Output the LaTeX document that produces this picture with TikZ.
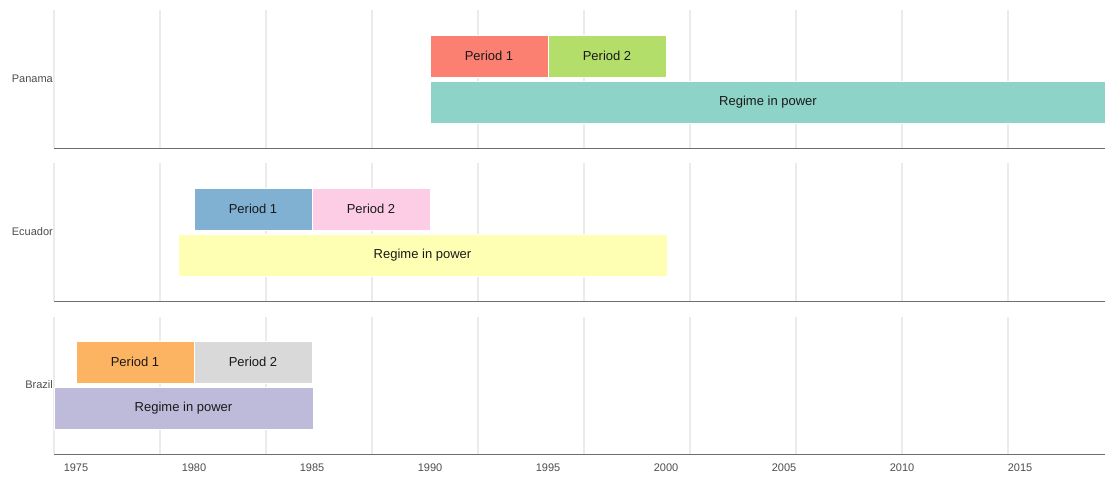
\documentclass[tikz,border=0pt]{standalone}
\usepackage{fontspec}
\setmainfont{Liberation Sans}
\definecolor{gridc}{HTML}{EBEBEB}
\definecolor{axisc}{HTML}{6E6E6E}
\definecolor{labc}{HTML}{4D4D4D}
\definecolor{cA}{HTML}{FB8072}
\definecolor{cB}{HTML}{B3DE69}
\definecolor{cC}{HTML}{8DD3C7}
\definecolor{cD}{HTML}{80B1D3}
\definecolor{cE}{HTML}{FCCDE5}
\definecolor{cF}{HTML}{FFFFB3}
\definecolor{cG}{HTML}{FDB462}
\definecolor{cH}{HTML}{D9D9D9}
\definecolor{cI}{HTML}{BEBADA}
\tikzset{
  bar/.style={draw=white, line width=0.6pt, inner sep=0pt, minimum height=42pt, text=black!90, font=\fontsize{13}{15}\selectfont},
  grid/.style={draw=gridc, line width=1.6pt},
  axisl/.style={draw=axisc, line width=1pt},
  lab/.style={text=labc, font=\fontsize{11}{13}\selectfont, inner sep=0pt}
}
\begin{document}
\begin{tikzpicture}[x=1pt,y=-1pt]
\useasboundingbox (0,0) rectangle (1105,477);
% grid lines
\foreach \t/\b in {10/148,163/301,317/454}{
  \foreach \x in {54,160,266,372,478,584,690,796,902,1008}{
    \draw[grid] (\x,\t) -- (\x,\b);
  }
}
% Panama
\node[bar, fill=cA, minimum width=118pt] (pa1) at (489,56) {Period 1};
\node[bar, fill=cB, minimum width=118pt] (pa2) at (607,56) {Period 2};
\node[bar, fill=cC, minimum width=676pt] (par) at (768,102) {Regime in power};
% Ecuador
\node[bar, fill=cD, minimum width=118pt] (ec1) at (253,209) {Period 1};
\node[bar, fill=cE, minimum width=118pt] (ec2) at (371,209) {Period 2};
\node[bar, fill=cF, minimum width=489pt] (ecr) at (422.5,255) {Regime in power};
% Brazil
\node[bar, fill=cG, minimum width=118pt] (br1) at (135,362) {Period 1};
\node[bar, fill=cH, minimum width=118pt] (br2) at (253,362) {Period 2};
\node[bar, fill=cI, minimum width=259pt] (brr) at (183.5,408) {Regime in power};
% axis lines
\coordinate (a1l) at (54,148); \coordinate (a1r) at (1105,148);
\coordinate (a2l) at (54,301); \coordinate (a2r) at (1105,301);
\coordinate (a3l) at (54,454); \coordinate (a3r) at (1105,454);
\draw[axisl] (a1l) -- (a1r);
\draw[axisl] (a2l) -- (a2r);
\draw[axisl] (a3l) -- (a3r);
% country labels
\node[lab, anchor=east] (lpa) at (53,79) {Panama};
\node[lab, anchor=east] (lec) at (53,232) {Ecuador};
\node[lab, anchor=east] (lbr) at (53,385) {Brazil};
% tick labels
\foreach \yr/\x in {1975/76,1980/194,1985/312,1990/430,1995/548,2000/666,2005/784,2010/902,2015/1020}{
  \node[lab] (t\yr) at (\x,468) {\yr};
}
\end{tikzpicture}
\end{document}
